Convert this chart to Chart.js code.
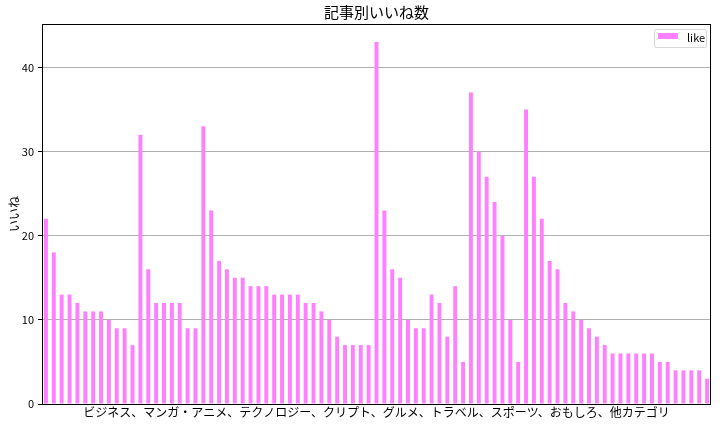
<!DOCTYPE html>
<html>
<head>
<meta charset="utf-8">
<script src="https://cdn.jsdelivr.net/npm/chart.js@4"></script>
<style>
  html, body { margin: 0; padding: 0; background: #fff; }
  #wrap { width: 722px; height: 427px; }
</style>
</head>
<body>
<div id="wrap"><canvas id="grafico"></canvas></div>
<script>
// いいね数 (記事ごと)
const likes = [
  22, 18, 13, 13, 12, 11, 11, 11, 10, 9, 9, 7, 32, 16, 12, 12, 12, 12, 9, 9,
  33, 23, 17, 16, 15, 15, 14, 14, 14, 13, 13, 13, 13, 12, 12, 11, 10, 8, 7, 7,
  7, 7, 43, 23, 16, 15, 10, 9, 9, 13, 12, 8, 14, 5, 37, 30, 27, 24, 20, 10,
  5, 35, 27, 22, 17, 16, 12, 11, 10, 9, 8, 7, 6, 6, 6, 6, 6, 6, 5, 5,
  4, 4, 4, 4, 3
];
const articles = likes.map((_, i) => String(i));
const yTicks = [0, 10, 20, 30, 40];
const yMax = 45.15;

const titulo = "記事別いいね数";
const etiquetaX = "ビジネス、マンガ・アニメ、テクノロジー、クリプト、グルメ、トラベル、スポーツ、おもしろ、他カテゴリ";
const etiquetaY = "いいね";
const serie = "like";
const colorBarra = "#ff80ff";

const fuente = "'Noto Sans CJK JP', 'Noto Sans', sans-serif";

// marco negro y leyenda dentro del área
const marco = {
  id: "marco",
  afterDraw(chart) {
    const { ctx, chartArea: a } = chart;
    ctx.save();
    ctx.strokeStyle = "#000";
    ctx.lineWidth = 1;
    ctx.strokeRect(Math.round(a.left) + 0.5, Math.round(a.top) + 0.5,
      Math.round(a.right - a.left) - 1, Math.round(a.bottom - a.top));

    const ds = chart.data.datasets[0];
    const w = 52, h = 18;
    const x = a.right - 5 - w, y = a.top + 5;
    ctx.beginPath();
    ctx.roundRect(x + 0.5, y + 0.5, w, h, 2);
    ctx.fillStyle = "rgba(255,255,255,0.8)";
    ctx.fill();
    ctx.strokeStyle = "#d6d6d6";
    ctx.stroke();
    ctx.fillStyle = ds.backgroundColor;
    ctx.fillRect(x + 4, y + 4, 20, 6);
    ctx.fillStyle = "#000";
    ctx.font = "11px " + fuente;
    ctx.textBaseline = "middle";
    ctx.fillText(ds.label, x + 33, y + h / 2);
    ctx.restore();
  }
};

new Chart(document.getElementById("grafico"), {
  type: "bar",
  data: {
    labels: articles,
    datasets: [{
      label: serie,
      data: likes,
      backgroundColor: colorBarra,
      borderWidth: 0,
      categoryPercentage: 1,
      barPercentage: 0.5
    }]
  },
  options: {
    responsive: true,
    maintainAspectRatio: false,
    animation: false,
    layout: { padding: { right: 11 } },
    plugins: {
      legend: { display: false },
      tooltip: { enabled: false },
      title: {
        display: true,
        text: titulo,
        fullSize: false,
        color: "#000",
        font: { family: fuente, size: 15, weight: "normal", lineHeight: 1.2 },
        padding: { top: 3, bottom: 3 }
      }
    },
    scales: {
      x: {
        offset: true,
        grid: { display: false },
        border: { display: false },
        ticks: { display: false },
        title: {
          display: true,
          text: etiquetaX,
          color: "#000",
          font: { family: fuente, size: 12, lineHeight: 1.2 },
          padding: { top: 0, bottom: 7 }
        },
        afterFit: (s) => { s.height = 23; }
      },
      y: {
        min: 0,
        max: yMax,
        border: { display: false },
        grid: { color: "#b0b0b0", tickColor: "#000", tickLength: 4, lineWidth: 1 },
        ticks: {
          stepSize: 10,
          padding: 4,
          color: "#000",
          font: { family: fuente, size: 11 }
        },
        afterBuildTicks: (s) => {
          s.ticks = s.ticks.filter(t => yTicks.includes(t.value));
        },
        title: {
          display: true,
          text: etiquetaY,
          color: "#000",
          font: { family: fuente, size: 12, lineHeight: 1.2 },
          padding: { top: 7, bottom: 0 }
        },
        afterFit: (s) => { s.width = 42; }
      }
    }
  },
  plugins: [marco]
});
</script>
</body>
</html>
